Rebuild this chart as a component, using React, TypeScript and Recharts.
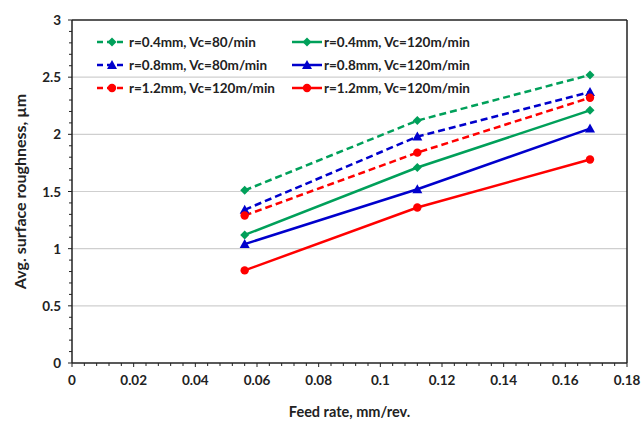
import React from "react";
import { LineChart, Line, XAxis, YAxis, ReferenceLine } from "recharts";

// Rugosidade media vs avanco: 6 series (3 raios x 2 velocidades de corte)
const feed = [0.056, 0.112, 0.168];
const g80 = [1.51, 2.12, 2.52];
const b80 = [1.34, 1.98, 2.37];
const r80 = [1.29, 1.84, 2.32];
const g120 = [1.12, 1.71, 2.21];
const b120 = [1.04, 1.52, 2.05];
const r120 = [0.81, 1.36, 1.78];

const xMinor = [
  0, 0.004, 0.008, 0.012, 0.016, 0.02, 0.024, 0.028, 0.032, 0.036, 0.04, 0.044, 0.048, 0.052, 0.056,
  0.06, 0.064, 0.068, 0.072, 0.076, 0.08, 0.084, 0.088, 0.092, 0.096, 0.1, 0.104, 0.108, 0.112, 0.116,
  0.12, 0.124, 0.128, 0.132, 0.136, 0.14, 0.144, 0.148, 0.152, 0.156, 0.16, 0.164, 0.168, 0.172, 0.176, 0.18,
];
const yMinor = [
  0, 0.1, 0.2, 0.3, 0.4, 0.5, 0.6, 0.7, 0.8, 0.9, 1, 1.1, 1.2, 1.3, 1.4, 1.5, 1.6, 1.7, 1.8, 1.9, 2,
  2.1, 2.2, 2.3, 2.4, 2.5, 2.6, 2.7, 2.8, 2.9, 3,
];
const grid = [0.5, 1, 1.5, 2, 2.5];

const dados = feed.map((x, i) => ({
  x,
  g80: g80[i],
  b80: b80[i],
  r80: r80[i],
  g120: g120[i],
  b120: b120[i],
  r120: r120[i],
}));

const VERDE = "#00A05A";
const AZUL = "#0000CC";
const VERMELHO = "#FF0000";
const FONTE = "Lato, 'Open Sans', sans-serif";

type Forma = "diamond" | "triangle" | "circle";

const series: { key: string; nome: string; cor: string; forma: Forma; tracejado: boolean }[] = [
  { key: "g80", nome: "r=0.4mm, Vc=80/min", cor: VERDE, forma: "diamond", tracejado: true },
  { key: "g120", nome: "r=0.4mm, Vc=120m/min", cor: VERDE, forma: "diamond", tracejado: false },
  { key: "b80", nome: "r=0.8mm, Vc=80m/min", cor: AZUL, forma: "triangle", tracejado: true },
  { key: "b120", nome: "r=0.8mm, Vc=120m/min", cor: AZUL, forma: "triangle", tracejado: false },
  { key: "r80", nome: "r=1.2mm, Vc=120m/min", cor: VERMELHO, forma: "circle", tracejado: true },
  { key: "r120", nome: "r=1.2mm, Vc=120m/min", cor: VERMELHO, forma: "circle", tracejado: false },
];

function Marcador({ cx, cy, cor, forma }: { cx: number; cy: number; cor: string; forma: Forma }) {
  if (forma === "diamond") {
    const s = 4.5;
    return <path d={`M${cx},${cy - s}L${cx + s},${cy}L${cx},${cy + s}L${cx - s},${cy}Z`} fill={cor} />;
  }
  if (forma === "triangle") {
    const s = 5;
    return <path d={`M${cx},${cy - s}L${cx + s},${cy + s * 0.8}L${cx - s},${cy + s * 0.8}Z`} fill={cor} />;
  }
  return <circle cx={cx} cy={cy} r={4.2} fill={cor} />;
}

const eMaior = (v: number, passo: number) => Math.abs(v / passo - Math.round(v / passo)) < 1e-6;

function XTick(props: any) {
  const { x, y, payload } = props;
  const v = payload.value as number;
  const maior = eMaior(v, 0.02);
  return (
    <g>
      <line x1={x} x2={x} y1={y} y2={y + (maior ? 4 : 3)} stroke="#222" strokeWidth={1} />
      {maior && (
        <text x={x} y={y + 22} textAnchor="middle" fontSize={13.5} fontWeight={700} fill="#222" fontFamily={FONTE}>
          {String(v)}
        </text>
      )}
    </g>
  );
}

function YTick(props: any) {
  const { x, y, payload } = props;
  const v = payload.value as number;
  const maior = eMaior(v, 0.5);
  return (
    <g>
      <line x1={x} x2={x - (maior ? 4 : 3)} y1={y} y2={y} stroke="#222" strokeWidth={1} />
      {maior && (
        <text x={x - 11} y={y + 5} textAnchor="end" fontSize={13.5} fontWeight={700} fill="#222" fontFamily={FONTE}>
          {String(v)}
        </text>
      )}
    </g>
  );
}

function Legenda() {
  return (
    <div
      style={{
        position: "absolute",
        left: 96,
        top: 33,
        display: "grid",
        gridTemplateColumns: "195px 200px",
        rowGap: 6,
        fontFamily: FONTE,
        fontWeight: 700,
        fontSize: 13.5,
        color: "#222",
      }}
    >
      {series.map((s) => (
        <div key={s.key} style={{ display: "flex", alignItems: "center", height: 17 }}>
          <svg width={32} height={14} style={{ marginRight: 1 }}>
            <line
              x1={1}
              x2={31}
              y1={7}
              y2={7}
              stroke={s.cor}
              strokeWidth={2.5}
              strokeDasharray={s.tracejado ? "6 4" : undefined}
            />
            <Marcador cx={16} cy={7} cor={s.cor} forma={s.forma} />
          </svg>
          <span>{s.nome}</span>
        </div>
      ))}
    </div>
  );
}

export default function App() {
  return (
    <div style={{ position: "absolute", left: 0, top: 0, width: 641, height: 425, background: "#fff" }}>
      <LineChart width={641} height={425} data={dados} margin={{ top: 20, right: 14, bottom: 0, left: 0 }}>
        <XAxis
          type="number"
          dataKey="x"
          domain={[0, 0.18]}
          ticks={xMinor}
          interval={0}
          tick={<XTick />}
          tickLine={false}
          tickSize={0}
          tickMargin={0}
          axisLine={{ stroke: "#222", strokeWidth: 1.5 }}
          height={62}
          allowDataOverflow
          label={{
            value: "Feed rate, mm/rev.",
            position: "insideBottom",
            offset: 8,
            fontSize: 14.5,
            fontWeight: 700,
            fill: "#222",
            fontFamily: FONTE,
          }}
        />
        <YAxis
          type="number"
          domain={[0, 3]}
          ticks={yMinor}
          interval={0}
          tick={<YTick />}
          tickLine={false}
          tickSize={0}
          tickMargin={0}
          axisLine={{ stroke: "#222", strokeWidth: 1.5 }}
          width={72}
          allowDataOverflow
          label={{
            value: "Avg. surface roughness, µm",
            angle: -90,
            position: "insideLeft",
            offset: 20,
            style: { textAnchor: "middle" },
            fontSize: 16,
            fontWeight: 700,
            fill: "#222",
            fontFamily: FONTE,
          }}
        />
        {grid.map((g) => (
          <ReferenceLine key={g} y={g} stroke="#cfcfcf" strokeWidth={1.2} />
        ))}
        <ReferenceLine y={3} stroke="#222" strokeWidth={1.5} />
        <ReferenceLine x={0.18} stroke="#222" strokeWidth={1.5} />
        {series.map((s) => (
          <Line
            key={s.key}
            dataKey={s.key}
            name={s.nome}
            stroke={s.cor}
            strokeWidth={2.5}
            strokeDasharray={s.tracejado ? "7 4" : undefined}
            isAnimationActive={false}
            dot={(p: any) => <Marcador key={`${s.key}-${p.index}`} cx={p.cx} cy={p.cy} cor={s.cor} forma={s.forma} />}
            activeDot={false}
          />
        ))}
      </LineChart>
      <Legenda />
    </div>
  );
}
